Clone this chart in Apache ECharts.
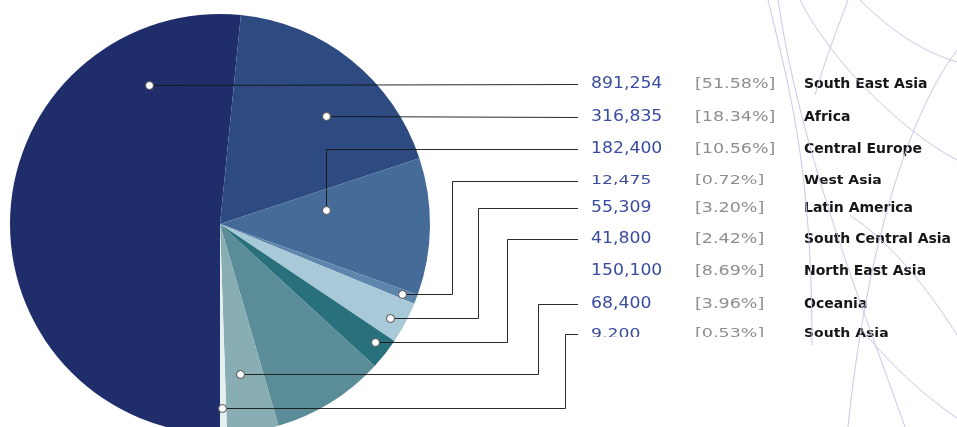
<!DOCTYPE html>
<html>
<head>
<meta charset="utf-8">
<script src="https://cdn.jsdelivr.net/npm/echarts@6/dist/echarts.min.js"></script>
<style>
  html, body { margin: 0; padding: 0; background: #ffffff; }
  #chart { width: 957px; height: 427px; }
</style>
</head>
<body>
<div id="chart"></div>
<script>
// Visitors by region
const regions = ['South East Asia', 'Africa', 'Central Europe', 'West Asia', 'Latin America',
                 'South Central Asia', 'North East Asia', 'Oceania', 'South Asia'];
const visitors = [891254, 316835, 182400, 12475, 55309, 41800, 150100, 68400, 9200];
const sliceColors = ['#1f2d6b', '#2d4b81', '#456b99', '#5e85ac', '#a8c9d7',
                     '#28707c', '#5a8d97', '#88aeb4', '#e6eff0'];

// ---- layout ----
const PIE = { cx: 220, cy: 224, r: 210 };
const rowY = [84, 117, 149, 181, 208, 239, 271, 304, 334];
const rowScaleY = [1, 1, 1, 0.85, 1, 1, 1, 1, 0.9];
const colX = { lead: 578, value: 591, pct: 695, name: 804 };
// marker placement inside a slice: t = share of the slice's sweep, rf = share of radius,
// elbow = x of the vertical leg of the leader (null: straight line, 'dot': above marker)
const anchors = [
  { t: 0.824, rf: 0.743, elbow: null },
  { t: 0.588, rf: 0.72,  elbow: null },
  { t: 0.284, rf: 0.51,  elbow: 'dot' },
  { t: 0.5,   rf: 0.93,  elbow: 452 },
  { t: 0.57,  rf: 0.925, elbow: 478 },
  { t: 0.4,   rf: 0.93,  elbow: 507 },
  null,
  { t: 0.6,   rf: 0.72,  elbow: 538 },
  { t: 0.6,   rf: 0.876, elbow: 565 }
];
// faint globe lines in the background (cubic curves)
const globeCurves = [
  [768, 0, 790, 90, 812, 170, 812, 345],
  [778, 0, 800, 150, 860, 300, 905, 427],
  [800, 0, 830, 60, 900, 130, 957, 160],
  [848, 0, 835, 35, 825, 60, 815, 95],
  [860, 0, 895, 35, 925, 52, 957, 62],
  [957, 50, 905, 120, 865, 260, 848, 427],
  [850, 215, 900, 250, 935, 300, 957, 335],
  [862, 330, 895, 370, 930, 400, 957, 418]
];

const total = visitors.reduce((a, b) => a + b, 0);
const fmt = v => v.toLocaleString('en-US');
const pct = v => '[' + (v / total * 100).toFixed(2) + '%]';

const chart = echarts.init(document.getElementById('chart'), null, { renderer: 'canvas' });

// point on the pie: theta measured clockwise from 6 o'clock (series startAngle = -90)
function piePoint(thetaDeg, rad) {
  const a = thetaDeg * Math.PI / 180;
  return [PIE.cx - rad * Math.sin(a), PIE.cy + rad * Math.cos(a)];
}

const graphics = [];

// background globe lines
globeCurves.forEach(c => {
  graphics.push({
    type: 'bezierCurve', z: 30, silent: true,
    shape: { x1: c[0], y1: c[1], cpx1: c[2], cpy1: c[3], cpx2: c[4], cpy2: c[5], x2: c[6], y2: c[7] },
    style: { stroke: '#c6c9ea', lineWidth: 1, fill: null }
  });
});

// markers and leaders
let acc = 0;
visitors.forEach((v, i) => {
  const sweep = v / total * 360;
  const a = anchors[i];
  if (a) {
    const p = piePoint(acc + a.t * sweep, a.rf * PIE.r);
    const dx = Math.round(p[0]) + 0.5, dy = Math.round(p[1]) + 0.5;
    const ry = rowY[i] + 0.5;
    let pts;
    if (a.elbow === null) {
      pts = [[colX.lead, ry], [dx, dy]];
    } else {
      const ex = a.elbow === 'dot' ? dx : a.elbow + 0.5;
      pts = [[colX.lead, ry], [ex, ry], [ex, dy], [dx, dy]];
    }
    graphics.push({
      type: 'polyline', z: 10, silent: true,
      shape: { points: pts },
      style: { stroke: '#141414', lineWidth: 1, fill: null, opacity: 0.9 }
    });
    graphics.push({
      type: 'circle', z: 11, silent: true,
      shape: { cx: dx, cy: dy, r: 4 },
      style: { fill: '#ffffff', stroke: '#4a4a4a', lineWidth: 1 }
    });
  }
  acc += sweep;
});

// table of values, shares and region names
regions.forEach((name, i) => {
  const sy = rowScaleY[i];
  graphics.push({
    type: 'text', z: 12, x: colX.value, y: rowY[i], scaleX: 1.15, scaleY: sy,
    style: { text: fmt(visitors[i]), font: '15px "DejaVu Sans"', fill: '#3a4c9e', textVerticalAlign: 'middle' }
  });
  graphics.push({
    type: 'text', z: 12, x: colX.pct, y: rowY[i], scaleX: 1.25, scaleY: sy,
    style: { text: pct(visitors[i]), font: '14px "DejaVu Sans"', fill: '#8e8e8e', textVerticalAlign: 'middle' }
  });
  graphics.push({
    type: 'text', z: 12, x: colX.name, y: rowY[i], scaleX: 1.0, scaleY: sy,
    style: { text: name, font: 'bold 14px "DejaVu Sans"', fill: '#161616', textVerticalAlign: 'middle' }
  });
});

// the table is cut off just under its last row
graphics.push({
  type: 'rect', z: 20, silent: true,
  shape: { x: 585, y: 337, width: 372, height: 14 },
  style: { fill: '#ffffff' }
});

chart.setOption({
  backgroundColor: '#ffffff',
  animation: false,
  series: [{
    type: 'pie',
    center: [PIE.cx, PIE.cy],
    radius: PIE.r,
    startAngle: -90,
    clockwise: true,
    minAngle: 0,
    avoidLabelOverlap: false,
    label: { show: false },
    labelLine: { show: false },
    emphasis: { disabled: true },
    itemStyle: { borderWidth: 0 },
    data: regions.map((n, i) => ({ name: n, value: visitors[i], itemStyle: { color: sliceColors[i] } }))
  }],
  graphic: graphics
});
</script>
</body>
</html>
